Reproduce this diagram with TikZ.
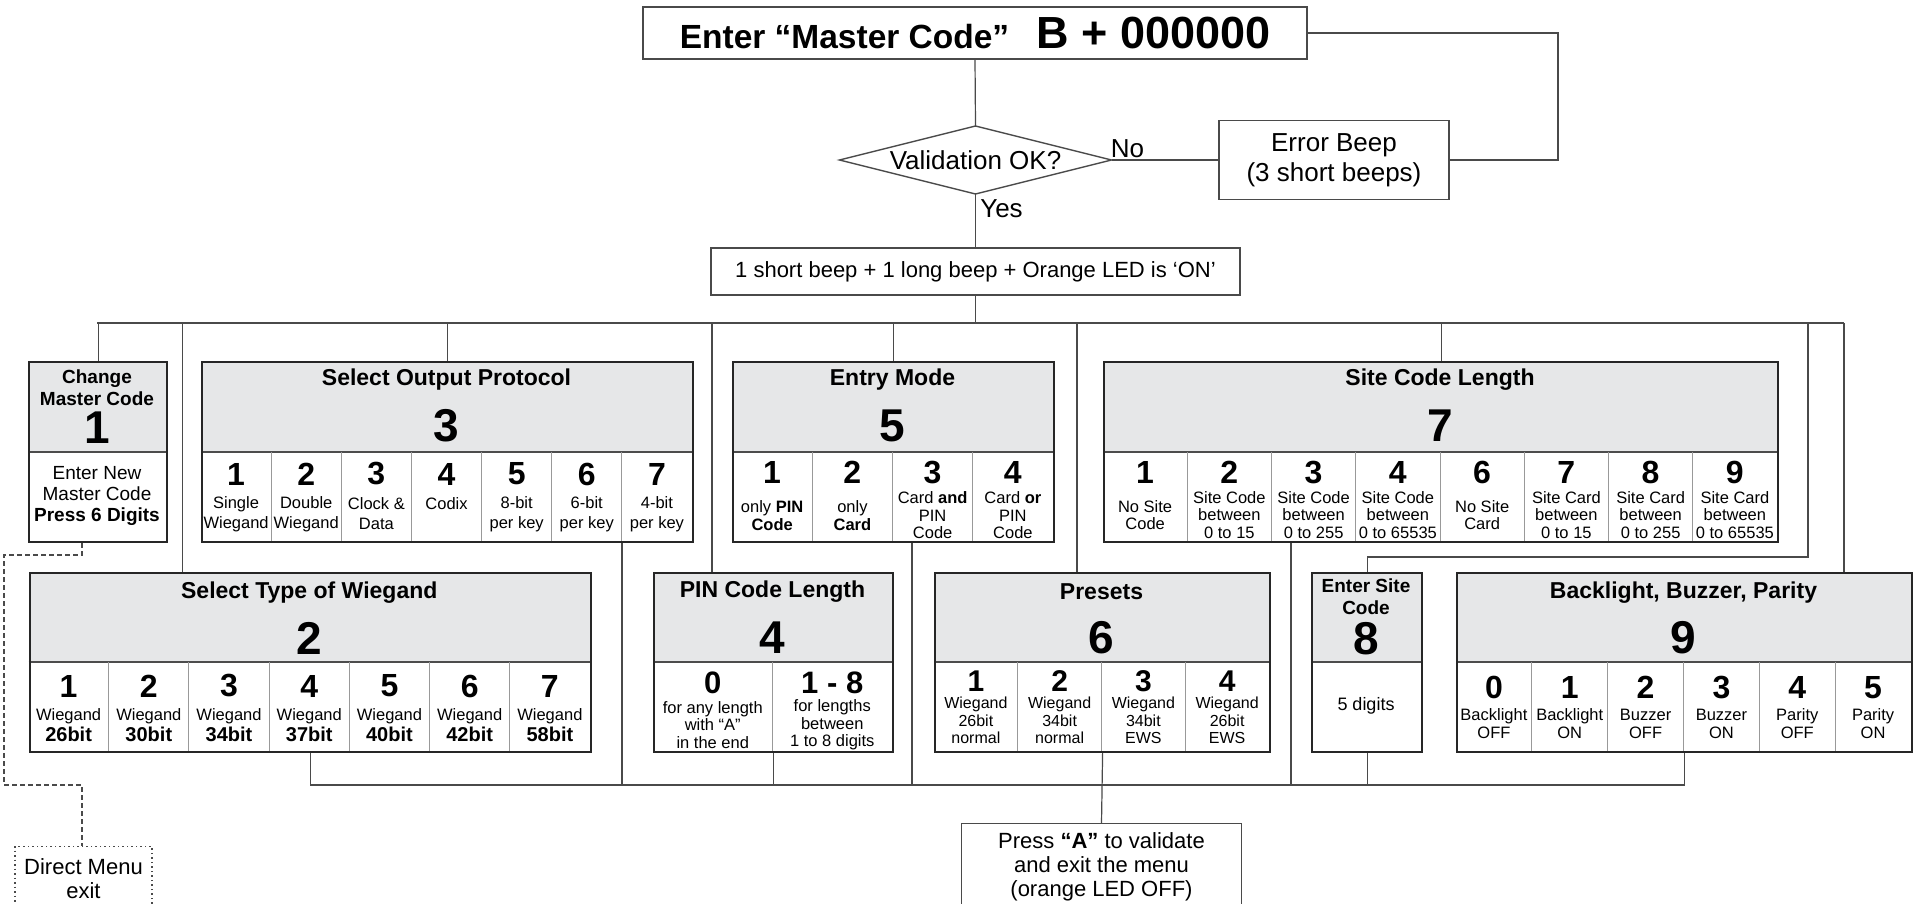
\documentclass[tikz,border=0pt]{standalone}
\usepackage{fontspec}
\setmainfont{Liberation Sans}
\newcommand{\fsz}[2]{\fontsize{#1}{#2}\selectfont}
\definecolor{hdrgray}{HTML}{E6E7E8}
\definecolor{linegray}{HTML}{4A4A4A}
\tikzset{
  conn/.style={draw=linegray, line width=1.2pt},
  dashconn/.style={draw=linegray, line width=1.1pt, dash pattern=on 5pt off 3pt},
  plainbox/.style={draw=linegray, line width=1.4pt, rectangle, inner sep=0pt},
  dotbox/.style={draw=linegray, line width=1.2pt, dash pattern=on 1.5pt off 3pt, rectangle, inner sep=0pt},
  menubox/.style={draw=black!85, line width=2.2pt, rectangle, inner sep=0pt, anchor=north west},
  hdrline/.style={draw=black!70, line width=1.3pt},
  divider/.style={draw=black!40, line width=0.9pt},
  ttl/.style={font=\bfseries\fsz{23}{26}, inner sep=0pt, align=center},
  sttl/.style={font=\bfseries\fsz{19}{22}, inner sep=0pt, align=center},
  hdig/.style={font=\bfseries\fsz{46}{46}, inner sep=0pt},
  cdig/.style={font=\bfseries\fsz{32}{32}, inner sep=0pt},
  ctxt/.style={font=\fsz{16.5}{17.5}, inner sep=0pt, align=center},
  ctxtb/.style={font=\fsz{16.5}{20}, inner sep=0pt, align=center},
  ctxtc/.style={font=\fsz{16.5}{21}, inner sep=0pt, align=center},
  ctxtd/.style={font=\fsz{16}{17.5}, inner sep=0pt, align=center},
  btxt/.style={font=\fsz{19}{21}, inner sep=0pt, align=center},
  bigtxt/.style={font=\fsz{26}{30}, inner sep=0pt, align=center},
  midtxt/.style={font=\fsz{22}{24}, inner sep=0pt, align=center},
}
\begin{document}
\begin{tikzpicture}[x=1pt,y=-1pt]
\useasboundingbox (0,0) rectangle (1914,904);

% ---------- top part ----------
\node[plainbox, minimum width=664pt, minimum height=52pt] (master) at (975,33)
  {\bfseries\fsz{33.5}{36}Enter “Master Code”\hspace{27pt}\fsz{45}{45}B + 000000};
\coordinate (vN) at (975.5,126);
\coordinate (vE) at (1111.5,160);
\coordinate (vS) at (975.5,194);
\coordinate (vW) at (839.5,160);
\draw[draw=linegray, line width=1.4pt] (vW) -- (vN) -- (vE) -- (vS) -- cycle;
\node[bigtxt] (valid) at (975.5,160) {Validation OK?};
\node[plainbox, bigtxt, minimum width=230pt, minimum height=79pt] (err) at (1334,160) {Error Beep\\(3 short beeps)};
\node[bigtxt] (no) at (1127.5,148.5) {No};
\node[bigtxt] (yes) at (1001.5,209) {Yes};
\node[plainbox, midtxt, minimum width=529pt, minimum height=47pt] (beep) at (975.5,271.5) {1 short beep + 1 long beep + Orange LED is ‘ON’};

\draw[conn] (master.south) -- (vN);
\draw[conn] (vE) -- (err.west);
\coordinate (loopR) at (1558,0);
\draw[conn] (err.east) -- (err.east -| loopR) -- (master.east -| loopR) -- (master.east);
\draw[conn] (vS) -- (beep.north);

\coordinate (busL) at (97,323);
\coordinate (busR) at (1844,323);
\draw[conn] (beep.south) -- (beep.south |- busL);
\draw[conn] (busL) -- (busR);

% ---------- box 1 ----------
\fill[hdrgray] (28,361) rectangle (166,452);
\draw[hdrline] (28,452) -- (166,452);
\node[menubox, minimum width=138pt, minimum height=180pt] (b1) at (28,361) {};
\node[sttl] (b1t) at (97,387.5) {Change\\Master Code};
\node[hdig] (b1n) at (97,428) {1};
\node[btxt] (b1x) at (97,496) {Enter New\\Master Code\\\textbf{Press 6 Digits}};

% ---------- box 3 ----------
\fill[hdrgray] (201,361) rectangle (692,452);
\draw[hdrline] (201,452) -- (692,452);
\foreach \k in {1,...,6} \draw[divider] ({201+\k*70.143},452) -- ({201+\k*70.143},541);
\node[menubox, minimum width=491pt, minimum height=180pt] (b3) at (201,361) {};
\node[ttl] (b3t) at (446.5,380) {Select Output Protocol};
\node[hdig] (b3n) at (446.5,426) {3};
\foreach \k/\dg/\txt in {0/1/Single\\Wiegand, 1/2/Double\\Wiegand, 2/3/Clock \&\\Data, 3/4/Codix\\\mbox{}, 4/5/8-bit\\per key, 5/6/6-bit\\per key, 6/7/4-bit\\per key} {
  \node[cdig] (b3d\k) at ({201+(\k+0.5)*70.143},474) {\dg};
  \node[ctxtb] (b3c\k) at ({201+(\k+0.5)*70.143},514) {\txt};
}

% ---------- box 5 ----------
\fill[hdrgray] (732,361) rectangle (1053,452);
\draw[hdrline] (732,452) -- (1053,452);
\foreach \k in {1,2,3} \draw[divider] ({732+\k*80.25},452) -- ({732+\k*80.25},541);
\node[menubox, minimum width=321pt, minimum height=180pt] (b5) at (732,361) {};
\node[ttl] (b5t) at (892.5,380) {Entry Mode};
\node[hdig] (b5n) at (892.5,426) {5};
\foreach \k/\dg/\txt in {0/1/only \textbf{PIN}\\\textbf{Code}, 1/2/only\\\textbf{Card}, 2/3/Card \textbf{and}\\PIN\\Code, 3/4/Card \textbf{or}\\PIN\\Code} {
  \node[cdig] (b5d\k) at ({732+(\k+0.5)*80.25},472.5) {\dg};
  \node[ctxt] (b5c\k) at ({732+(\k+0.5)*80.25},515.5) {\txt};
}

% ---------- box 7 ----------
\fill[hdrgray] (1103,361) rectangle (1777,452);
\draw[hdrline] (1103,452) -- (1777,452);
\foreach \k in {1,...,7} \draw[divider] ({1103+\k*84.25},452) -- ({1103+\k*84.25},541);
\node[menubox, minimum width=674pt, minimum height=180pt] (b7) at (1103,361) {};
\node[ttl] (b7t) at (1440,380) {Site Code Length};
\node[hdig] (b7n) at (1440,426) {7};
\foreach \k/\dg/\txt in {0/1/No Site\\Code, 1/2/Site Code\\between\\0 to 15, 2/3/Site Code\\between\\0 to 255, 3/4/Site Code\\between\\0 to 65535, 4/6/No Site\\Card, 5/7/Site Card\\between\\0 to 15, 6/8/Site Card\\between\\0 to 255, 7/9/Site Card\\between\\0 to 65535} {
  \node[cdig] (b7d\k) at ({1103+(\k+0.5)*84.25},472.5) {\dg};
  \node[ctxt] (b7c\k) at ({1103+(\k+0.5)*84.25},515) {\txt};
}

% ---------- box 2 ----------
\fill[hdrgray] (28.5,572) rectangle (590,662);
\draw[hdrline] (28.5,662) -- (590,662);
\foreach \k in {1,...,6} \draw[divider] ({28.5+\k*80.214},662) -- ({28.5+\k*80.214},751);
\node[menubox, minimum width=561.5pt, minimum height=179pt] (b2) at (28.5,572) {};
\node[ttl] (b2t) at (309.25,592.5) {Select Type of Wiegand};
\node[hdig] (b2n) at (309.25,638.5) {2};
\foreach \k/\dg/\txt in {0/1/26bit, 1/2/30bit, 2/3/34bit, 3/4/37bit, 4/5/40bit, 5/6/42bit, 6/7/58bit} {
  \node[cdig] (b2d\k) at ({28.5+(\k+0.5)*80.214},686) {\dg};
  \node[ctxtc] (b2c\k) at ({28.5+(\k+0.5)*80.214},725.5) {Wiegand\\\textbf{\fsz{20}{21}\txt}};
}

% ---------- box 4 ----------
\fill[hdrgray] (653,572) rectangle (892,662);
\draw[hdrline] (653,662) -- (892,662);
\draw[divider] (772.5,662) -- (772.5,751);
\node[menubox, minimum width=239pt, minimum height=179pt] (b4) at (653,572) {};
\node[ttl] (b4t) at (772.5,592) {PIN Code Length};
\node[hdig] (b4n) at (772.5,638) {4};
\foreach \k/\dg/\txt in {0/0/for any length\\with “A”\\in the end, 1/1 - 8/for lengths\\between\\1 to 8 digits} {
  \node[cdig, font=\bfseries\fsz{31}{31}] (b4d\k) at ({653+(\k+0.5)*119.5},683) {\dg};
  \node[ctxtd, font=\fsz{16.5}{17.5}] (b4c\k) at ({653+(\k+0.5)*119.5},725) {\txt};
}

% ---------- box 6 ----------
\fill[hdrgray] (934,572) rectangle (1269,662);
\draw[hdrline] (934,662) -- (1269,662);
\foreach \k in {1,2,3} \draw[divider] ({934+\k*83.75},662) -- ({934+\k*83.75},751);
\node[menubox, minimum width=335pt, minimum height=179pt] (b6) at (934,572) {};
\node[ttl] (b6t) at (1101.5,592) {Presets};
\node[hdig] (b6n) at (1101.5,638) {6};
\foreach \k/\dg/\txt in {0/1/Wiegand\\26bit\\normal, 1/2/Wiegand\\34bit\\normal, 2/3/Wiegand\\34bit\\EWS, 3/4/Wiegand\\26bit\\EWS} {
  \node[cdig, font=\bfseries\fsz{30}{30}] (b6d\k) at ({934+(\k+0.5)*83.75},681) {\dg};
  \node[ctxtd] (b6c\k) at ({934+(\k+0.5)*83.75},720.5) {\txt};
}

% ---------- box 8 ----------
\fill[hdrgray] (1311,572) rectangle (1421,662);
\draw[hdrline] (1311,662) -- (1421,662);
\node[menubox, minimum width=110pt, minimum height=179pt] (b8) at (1311,572) {};
\node[sttl] (b8t) at (1366,597) {Enter Site\\Code};
\node[hdig] (b8n) at (1366,639) {8};
\node[btxt, font=\fsz{18}{20}] (b8x) at (1366,706) {5 digits};

% ---------- box 9 ----------
\fill[hdrgray] (1456,572) rectangle (1911,662);
\draw[hdrline] (1456,662) -- (1911,662);
\foreach \k in {1,...,5} \draw[divider] ({1456+\k*75.833},662) -- ({1456+\k*75.833},751);
\node[menubox, minimum width=455pt, minimum height=179pt] (b9) at (1456,572) {};
\node[ttl] (b9t) at (1683.5,593) {Backlight, Buzzer, Parity};
\node[hdig] (b9n) at (1683.5,638) {9};
\foreach \k/\dg/\txt in {0/0/Backlight\\OFF, 1/1/Backlight\\ON, 2/2/Buzzer\\OFF, 3/3/Buzzer\\ON, 4/4/Parity\\OFF, 5/5/Parity\\ON} {
  \node[cdig] (b9d\k) at ({1456+(\k+0.5)*75.833},687.5) {\dg};
  \node[ctxt, font=\fsz{16.5}{18}] (b9c\k) at ({1456+(\k+0.5)*75.833},724) {\txt};
}

% ---------- bottom boxes ----------
\node[plainbox, midtxt, minimum width=280pt, minimum height=87pt, anchor=north] (press) at (1101.5,823)
  {Press \textbf{“A”} to validate\\and exit the menu\\(orange LED OFF)};
\node[dotbox, midtxt, minimum width=137pt, minimum height=64pt, anchor=north] (direct) at (83.5,846) {Direct Menu\\exit};

% ---------- upper connectors ----------
\draw[conn] (b1.north |- busL) -- (b1.north);
\draw[conn] (b3.north |- busL) -- (b3.north);
\draw[conn] (b5.north |- busL) -- (b5.north);
\draw[conn] (b7.north |- busL) -- (b7.north);
\coordinate (j2) at (182.5,323);
\draw[conn] (j2) -- (b2.north -| j2);
\coordinate (j4) at (712,323);
\draw[conn] (j4) -- (b4.north -| j4);
\coordinate (j6) at (1077,323);
\draw[conn] (j6) -- (b6.north -| j6);
\coordinate (j8) at (1808,323);
\coordinate (j8b) at (1808,557);
\draw[conn] (j8) -- (j8b) -- (b8.north |- j8b) -- (b8.north);
\draw[conn] (busR) -- (b9.north -| busR);

% ---------- lower connectors ----------
\coordinate (busB) at (0,785);
\draw[conn] (b2.south |- busB) -- (b9.south |- busB);
\draw[conn] (b2.south) -- (b2.south |- busB);
\coordinate (k3) at (622,0);
\draw[conn] (b3.south -| k3) -- (busB -| k3);
\draw[conn] (b4.south) -- (b4.south |- busB);
\coordinate (k5) at (912,0);
\draw[conn] (b5.south -| k5) -- (busB -| k5);
\draw[conn] (b6.south) -- (press.north);
\coordinate (k7) at (1291,0);
\draw[conn] (b7.south -| k7) -- (busB -| k7);
\draw[conn] (b8.south) -- (b8.south |- busB);
\draw[conn] (b9.south) -- (b9.south |- busB);

% ---------- dashed exit path ----------
\coordinate (d1) at (82,555);
\coordinate (d2) at (4,555);
\coordinate (d3) at (4,785);
\coordinate (d4) at (82,785);
\draw[dashconn] (b1.south -| d1) -- (d1) -- (d2) -- (d3) -- (d4) -- (direct.north -| d4);
\end{tikzpicture}
\end{document}
